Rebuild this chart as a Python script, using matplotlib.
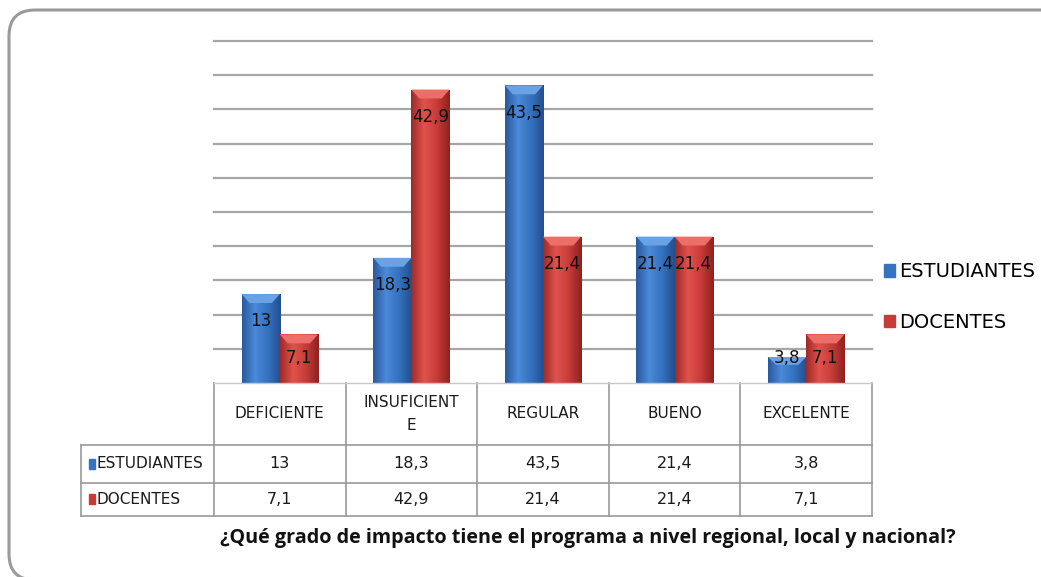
import numpy as np
import matplotlib.pyplot as plt
from matplotlib.patches import FancyBboxPatch, Rectangle, Polygon
from matplotlib.colors import LinearSegmentedColormap

categorias = ['DEFICIENTE', 'INSUFICIENT\nE', 'REGULAR', 'BUENO', 'EXCELENTE']
series = ['ESTUDIANTES', 'DOCENTES']
estudiantes = [13, 18.3, 43.5, 21.4, 3.8]
docentes = [7.1, 42.9, 21.4, 21.4, 7.1]
titulo = '¿Qué grado de impacto tiene el programa a nivel regional, local y nacional?'

plt.rcParams['font.family'] = ['Liberation Sans Narrow', 'DejaVu Sans']

W, H = 1041, 577
fig = plt.figure(figsize=(W / 100, H / 100), dpi=100)

# marco redondeado (borde inferior y derecho quedan fuera de la imagen)
marco = FancyBboxPatch((9, H - 580), 1060, 570,
                       boxstyle='round,pad=0,rounding_size=26',
                       transform=None, fill=False,
                       edgecolor='#9a9a9a', lw=2.2)
fig.patches.append(marco)

x0, x1 = 214, 872
y0, y1 = 41, 383
ax = fig.add_axes([x0 / W, 1 - y1 / H, (x1 - x0) / W, (y1 - y0) / H])
ax.set_xlim(-0.5, 4.5)
ax.set_ylim(0, 50)
ax.set_yticks(np.arange(5, 51, 5))
ax.yaxis.grid(True, color='#a6a6a6', lw=1.6)
for gl in ax.get_ygridlines():
    gl.set_clip_on(False)
ax.set_axisbelow(True)
for s in ax.spines.values():
    s.set_visible(False)
ax.tick_params(left=False, bottom=False, labelleft=False, labelbottom=False)

azul = ['#2a5a9e', '#4a8ad8', '#3572c0', '#24508e']
rojo = ['#a02a28', '#e0524c', '#c83c38', '#8e2220']
cmap_a = LinearSegmentedColormap.from_list('a', azul)
cmap_r = LinearSegmentedColormap.from_list('r', rojo)

ancho = 0.29
x = np.arange(len(categorias))
grad = np.linspace(0, 1, 50).reshape(1, -1)


def barra(xc, v, cmap, tope):
    b = ax.bar(xc, v, ancho, color=cmap(0.5), lw=0)[0]
    im = ax.imshow(grad, cmap=cmap, aspect='auto',
                   extent=(xc - ancho / 2, xc + ancho / 2, 0, v), zorder=2)
    im.set_clip_path(b)
    h = min(1.3, v * 0.3)
    ax.add_patch(Polygon([(xc - ancho / 2, v), (xc + ancho / 2, v),
                          (xc + ancho / 2 - 0.06, v - h), (xc - ancho / 2 + 0.06, v - h)],
                         closed=True, color=tope, lw=0, zorder=3))
    ax.text(xc, max(v - 4, 3.7), str(v).replace('.', ','), ha='center', va='center',
            fontsize=12, color='#111111', zorder=4)


for i in range(len(categorias)):
    barra(x[i] - ancho / 2, estudiantes[i], cmap_a, '#6aa2e6')
    barra(x[i] + ancho / 2, docentes[i], cmap_r, '#ec6e68')

ax.set_xlim(-0.5, 4.5)
ax.set_ylim(0, 50)

# tabla de datos
tr = ax.get_xaxis_transform()
px = (x1 - x0) / 5.0
def fy(p):
    return -(p - y1) / (y1 - y0)

izq = -0.5 - (214 - 81) / px
gris = '#9a9a9a'
for k in range(6):
    ax.plot([k - 0.5, k - 0.5], [fy(y1), fy(516)], transform=tr, color=gris, lw=1.2, clip_on=False)
for yy in [445, 483, 516]:
    ax.plot([izq, 4.5], [fy(yy), fy(yy)], transform=tr, color=gris, lw=1.2, clip_on=False)
ax.plot([izq, izq], [fy(445), fy(516)], transform=tr, color=gris, lw=1.2, clip_on=False)
ax.plot([-0.5, 4.5], [0, 0], transform=tr, color='#c8c8c8', lw=1, clip_on=False)

for i, c in enumerate(categorias):
    ax.text(x[i], fy(414), c, transform=tr, ha='center', va='center',
            fontsize=11, color='#1a1a1a', linespacing=1.6)
    ax.text(x[i], fy(464), str(estudiantes[i]).replace('.', ','), transform=tr,
            ha='center', va='center', fontsize=11.5, color='#1a1a1a')
    ax.text(x[i], fy(499), str(docentes[i]).replace('.', ','), transform=tr,
            ha='center', va='center', fontsize=11.5, color='#1a1a1a')

colores = ['#3572c0', '#c83c38']
for j, (s, yy) in enumerate(zip(series, [464, 499])):
    ax.add_patch(Rectangle((izq + 0.06, fy(yy) - 0.015), 0.05, 0.03, transform=tr,
                           color=colores[j], clip_on=False))
    ax.text(izq + 0.12, fy(yy), s, transform=tr, ha='left', va='center',
            fontsize=11, color='#1a1a1a')

fig.text(588 / W, 1 - 538 / H, titulo, ha='center', va='center',
         fontsize=14.2, fontweight='bold', color='#111111',
         family=['Open Sans', 'DejaVu Sans'])

# leyenda
hs = [Rectangle((0, 0), 1, 1, color=c) for c in colores]
fig.legend(hs, series, loc='center left', bbox_to_anchor=(866 / W, 1 - 297 / H),
           frameon=False, fontsize=14, handlelength=0.6, handleheight=0.6,
           handletextpad=0.2, labelspacing=1.6)

fig.savefig('out.png', dpi=100)
